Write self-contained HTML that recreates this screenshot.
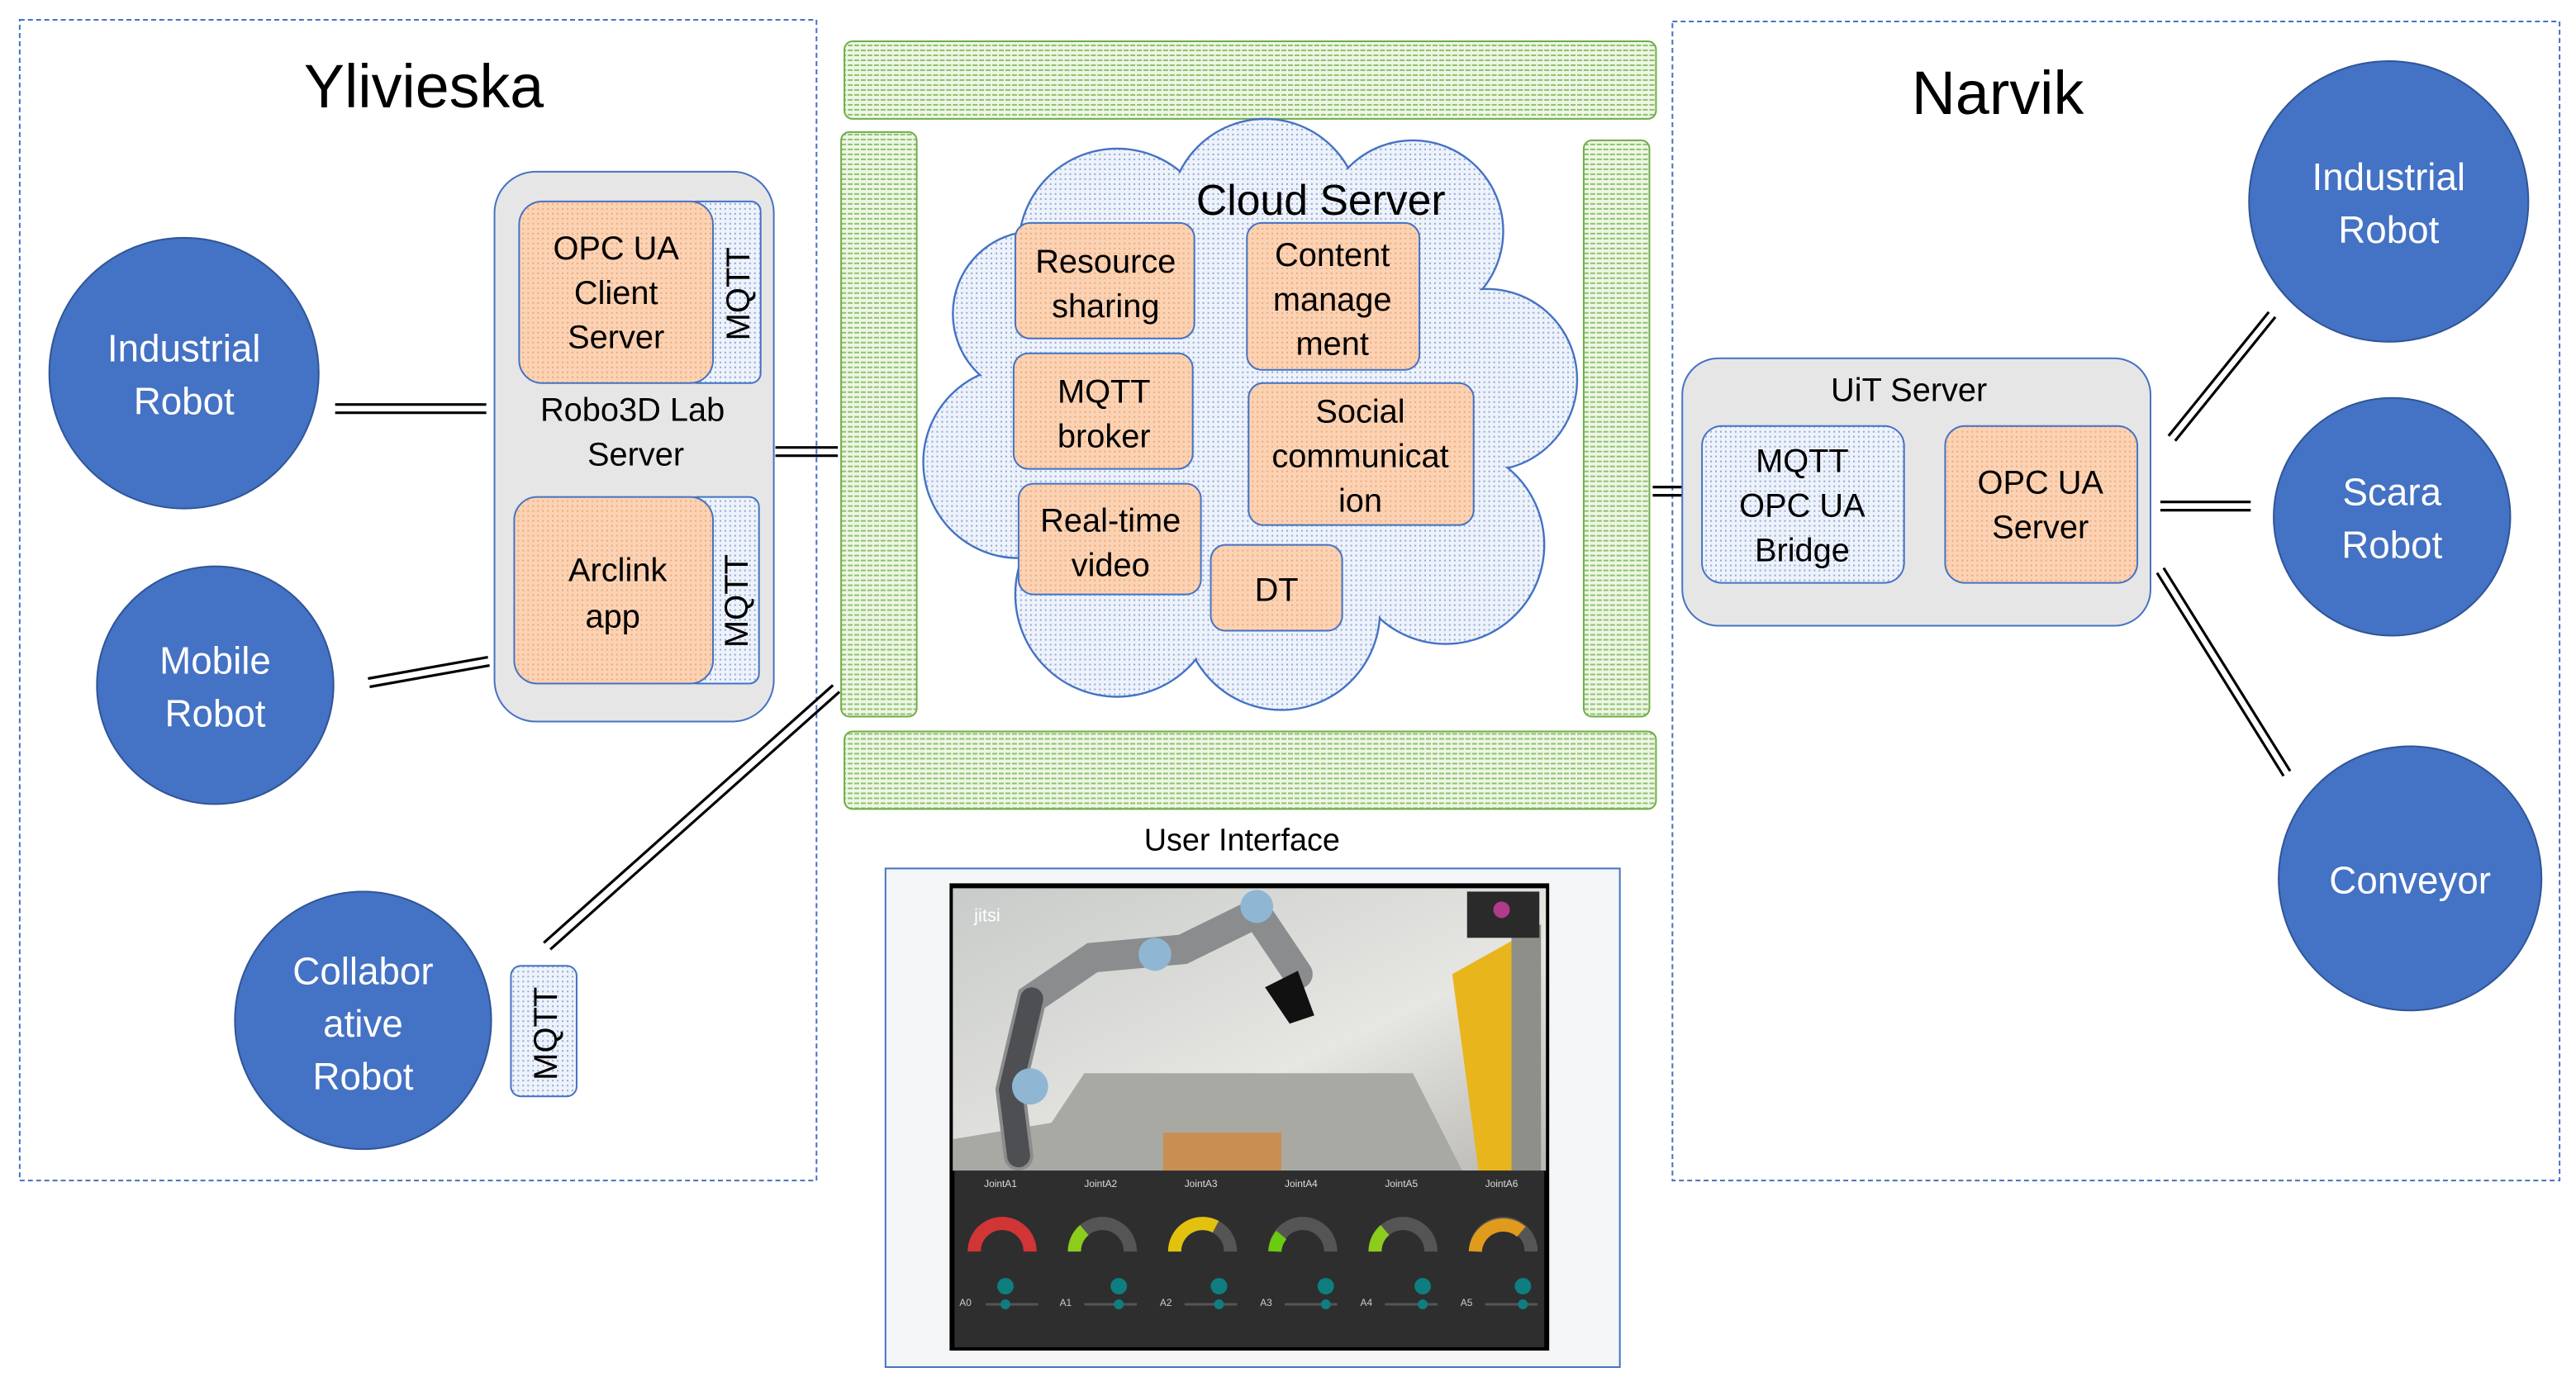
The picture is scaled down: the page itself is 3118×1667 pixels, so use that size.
<!DOCTYPE html>
<html><head><meta charset="utf-8"><style>html,body{margin:0;padding:0;background:#fff}svg{display:block}</style></head><body>
<svg width="3118" height="1667" viewBox="0 0 1568 834" preserveAspectRatio="none" xmlns="http://www.w3.org/2000/svg" font-family="Liberation Sans, sans-serif">
<defs>
<pattern id="gr" width="4" height="3" patternUnits="userSpaceOnUse"><rect width="4" height="3" fill="#eef6e6"/><rect width="3" height="1" fill="#8cc26a"/></pattern>
<pattern id="bl" width="3" height="3" patternUnits="userSpaceOnUse"><rect width="3" height="3" fill="#eef2fa"/><rect width="1" height="1" fill="#8ea9d8"/></pattern>
<pattern id="or" width="3" height="3" patternUnits="userSpaceOnUse"><rect width="3" height="3" fill="#fbd3b4"/><rect width="1" height="1" fill="#f0a878"/></pattern>
<linearGradient id="wall" x1="0" y1="0" x2="1" y2="1"><stop offset="0" stop-color="#c8cbc9"/><stop offset="0.6" stop-color="#e6e6e2"/><stop offset="1" stop-color="#b9b8b2"/></linearGradient>
</defs>
<g fill="none" stroke="#4472c4" stroke-width="1" stroke-dasharray="3,2">
<rect x="12" y="12" width="485" height="703"/>
<rect x="1018" y="13" width="540" height="702"/>
</g>
<text x="258" y="65" font-size="37" text-anchor="middle">Ylivieska</text>
<text x="1216" y="69" font-size="37" text-anchor="middle">Narvik</text>
<!-- lines -->
<g stroke="#000" stroke-width="1.6" fill="none">
<path d="M204 245H296M204 250H296"/>
<path d="M224 411L297 398M225 416L298 403"/>
<path d="M472 271H510M472 276H510"/>
<path d="M331 571L507 415M335 575L511 419"/>
<path d="M1006 295H1024M1006 300H1024"/>
<path d="M1163 301H1183M1163 306H1183"/>
<path d="M1320 264L1381 189M1324 267L1385 192"/>
<path d="M1315 304H1370M1315 309H1370"/>
<path d="M1313 347L1390 470M1317 344L1394 467"/>
</g>
<!-- circles -->
<g fill="#4472c4" stroke="#2f5597" stroke-width="1">
<circle cx="112" cy="226" r="82"/><circle cx="131" cy="415" r="72"/><circle cx="221" cy="618" r="78"/>
<circle cx="1454" cy="122" r="85"/><circle cx="1456" cy="313" r="72"/><circle cx="1467" cy="532" r="80"/>
</g>
<g fill="#fff" font-size="23" text-anchor="middle">
<text x="112" y="219">Industrial</text><text x="112" y="251">Robot</text>
<text x="131" y="408">Mobile</text><text x="131" y="440">Robot</text>
<text x="221" y="596">Collabor</text><text x="221" y="628">ative</text><text x="221" y="660">Robot</text>
<text x="1454" y="115">Industrial</text><text x="1454" y="147">Robot</text>
<text x="1456" y="306">Scara</text><text x="1456" y="338">Robot</text>
<text x="1467" y="541">Conveyor</text>
</g>
<!-- Robo3D server -->
<rect x="301" y="104" width="170" height="333" rx="25" fill="#e7e6e6" stroke="#4472c4"/>
<rect x="418" y="122" width="45" height="110" rx="6" fill="url(#bl)" stroke="#4472c4"/>
<rect x="316" y="122" width="118" height="110" rx="14" fill="url(#or)" stroke="#4472c4"/>
<rect x="418" y="301" width="44" height="113" rx="6" fill="url(#bl)" stroke="#4472c4"/>
<rect x="313" y="301" width="121" height="113" rx="14" fill="url(#or)" stroke="#4472c4"/>
<g font-size="20" text-anchor="middle">
<text x="375" y="157">OPC UA</text><text x="375" y="184">Client</text><text x="375" y="211">Server</text>
<text x="385" y="255">Robo3D Lab</text><text x="387" y="282">Server</text>
<text x="376" y="352">Arclink</text><text x="373" y="380">app</text>
<text transform="translate(456,178) rotate(-90)">MQTT</text>
<text transform="translate(455,364) rotate(-90)">MQTT</text>
</g>
<rect x="311" y="585" width="40" height="79" rx="6" fill="url(#bl)" stroke="#4472c4"/>
<text transform="translate(339,626) rotate(-90)" font-size="20" text-anchor="middle">MQTT</text>
<!-- green bars -->
<g fill="url(#gr)" stroke="#70ad47" stroke-width="1">
<rect x="514" y="25" width="494" height="47" rx="5"/>
<rect x="512" y="80" width="46" height="354" rx="5"/>
<rect x="964" y="85" width="40" height="349" rx="5"/>
<rect x="514" y="443" width="494" height="47" rx="5"/>
</g>
<!-- cloud -->
<g stroke="#4472c4" stroke-width="1.2" fill="url(#bl)">
<g id="cl">
<circle cx="680" cy="150" r="60"/><circle cx="770" cy="130" r="58"/><circle cx="860" cy="140" r="55"/>
<circle cx="905" cy="230" r="55"/><circle cx="880" cy="330" r="60"/><circle cx="780" cy="370" r="60"/>
<circle cx="680" cy="360" r="62"/><circle cx="620" cy="280" r="58"/><circle cx="630" cy="190" r="50"/><circle cx="770" cy="250" r="120"/>
</g>
</g>
<g fill="url(#bl)"><circle cx="680" cy="150" r="59"/><circle cx="770" cy="130" r="57"/><circle cx="860" cy="140" r="54"/>
<circle cx="905" cy="230" r="54"/><circle cx="880" cy="330" r="59"/><circle cx="780" cy="370" r="59"/>
<circle cx="680" cy="360" r="61"/><circle cx="620" cy="280" r="57"/><circle cx="630" cy="190" r="49"/><circle cx="770" cy="250" r="119"/></g>
<text x="804" y="130" font-size="26" text-anchor="middle">Cloud Server</text>
<g fill="url(#or)" stroke="#4472c4">
<rect x="618" y="135" width="109" height="70" rx="9"/>
<rect x="759" y="135" width="105" height="89" rx="9"/>
<rect x="617" y="214" width="109" height="70" rx="9"/>
<rect x="760" y="232" width="137" height="86" rx="9"/>
<rect x="620" y="293" width="111" height="67" rx="9"/>
<rect x="737" y="330" width="80" height="52" rx="9"/>
</g>
<g font-size="20" text-anchor="middle">
<text x="673" y="165">Resource</text><text x="673" y="192">sharing</text>
<text x="811" y="161">Content</text><text x="811" y="188">manage</text><text x="811" y="215">ment</text>
<text x="672" y="244">MQTT</text><text x="672" y="271">broker</text>
<text x="828" y="256">Social</text><text x="828" y="283">communicat</text><text x="828" y="310">ion</text>
<text x="676" y="322">Real-time</text><text x="676" y="349">video</text>
<text x="777" y="364">DT</text>
<text x="756" y="515" font-size="19">User Interface</text>
</g>
<!-- UiT -->
<rect x="1024" y="217" width="285" height="162" rx="22" fill="#e7e6e6" stroke="#4472c4"/>
<rect x="1036" y="258" width="123" height="95" rx="12" fill="url(#bl)" stroke="#4472c4"/>
<rect x="1184" y="258" width="117" height="95" rx="12" fill="url(#or)" stroke="#4472c4"/>
<g font-size="20" text-anchor="middle">
<text x="1162" y="243">UiT Server</text>
<text x="1097" y="286">MQTT</text><text x="1097" y="313">OPC UA</text><text x="1097" y="340">Bridge</text>
<text x="1242" y="299">OPC UA</text><text x="1242" y="326">Server</text>
</g>
<!-- UI panel -->
<rect x="539" y="526" width="447" height="302" fill="#f4f5f7" stroke="#4472c4"/>
<rect x="578" y="535" width="365" height="283" fill="#000"/>
<rect x="580" y="538" width="361" height="171" fill="url(#wall)"/>
<polygon points="580,690 640,680 660,650 860,650 890,709 580,709" fill="#a9a9a3"/>
<rect x="708" y="686" width="72" height="23" fill="#c98f52"/>
<polygon points="884,590 920,570 928,709 900,709" fill="#e8b51c"/>
<rect x="920" y="560" width="18" height="149" fill="#8f8f8a"/>
<g stroke-linecap="round" fill="none">
<path d="M620 700 L615 660 L628 605 L665 580 L720 575 L765 553 L790 590" stroke="#8a8c8e" stroke-width="18"/>
<path d="M620 700 L615 660 L628 605" stroke="#4d4f52" stroke-width="14"/>
</g>
<circle cx="627" cy="658" r="11" fill="#8fb6d3"/><circle cx="703" cy="578" r="10" fill="#8fb6d3"/><circle cx="765" cy="549" r="10" fill="#8fb6d3"/>
<path d="M770 598 L790 588 L800 615 L785 620 Z" fill="#111"/>
<text x="593" y="558" font-size="11" fill="#fff">jitsi</text>
<rect x="893" y="540" width="44" height="28" fill="#2a2a2a"/><circle cx="914" cy="551" r="5" fill="#b03a8c"/>
<rect x="581" y="709" width="359" height="107" fill="#2e2e2e"/>
<g font-size="6" fill="#ddd" text-anchor="middle">
<text x="609" y="719">JointA1</text><text x="670" y="719">JointA2</text><text x="731" y="719">JointA3</text><text x="792" y="719">JointA4</text><text x="853" y="719">JointA5</text><text x="914" y="719">JointA6</text>
</g>
<g fill="none" stroke-width="8">
<path d="M593 758 A17 17 0 0 1 627 758" stroke="#d13535"/>
<path d="M654 758 A17 17 0 0 1 688 758" stroke="#555"/><path d="M654 758 A17 17 0 0 1 660 745" stroke="#8ccc1c"/>
<path d="M715 758 A17 17 0 0 1 749 758" stroke="#555"/><path d="M715 758 A17 17 0 0 1 740 743" stroke="#e2c20e"/>
<path d="M776 758 A17 17 0 0 1 810 758" stroke="#555"/><path d="M776 758 A17 17 0 0 1 780 748" stroke="#6acb10"/>
<path d="M837 758 A17 17 0 0 1 871 758" stroke="#555"/><path d="M837 758 A17 17 0 0 1 843 745" stroke="#8ccc1c"/>
<path d="M898 758 A17 17 0 0 1 932 758" stroke="#555"/><path d="M898 758 A17 17 0 0 1 926 746" stroke="#e09a1c"/>
</g>
<g stroke="#555" stroke-width="1.5"><path d="M600 790H632M660 790H692M721 790H753M782 790H814M843 790H875M904 790H936"/></g>
<g fill="#0e7e80"><circle cx="612" cy="790" r="3"/><circle cx="681" cy="790" r="3"/><circle cx="742" cy="790" r="3"/><circle cx="807" cy="790" r="3"/><circle cx="866" cy="790" r="3"/><circle cx="927" cy="790" r="3"/>
<circle cx="612" cy="779" r="5"/><circle cx="681" cy="779" r="5"/><circle cx="742" cy="779" r="5"/><circle cx="807" cy="779" r="5"/><circle cx="866" cy="779" r="5"/><circle cx="927" cy="779" r="5"/></g>
<g font-size="6" fill="#ccc"><text x="584" y="791">A0</text><text x="645" y="791">A1</text><text x="706" y="791">A2</text><text x="767" y="791">A3</text><text x="828" y="791">A4</text><text x="889" y="791">A5</text></g>
</svg>
</body></html>
